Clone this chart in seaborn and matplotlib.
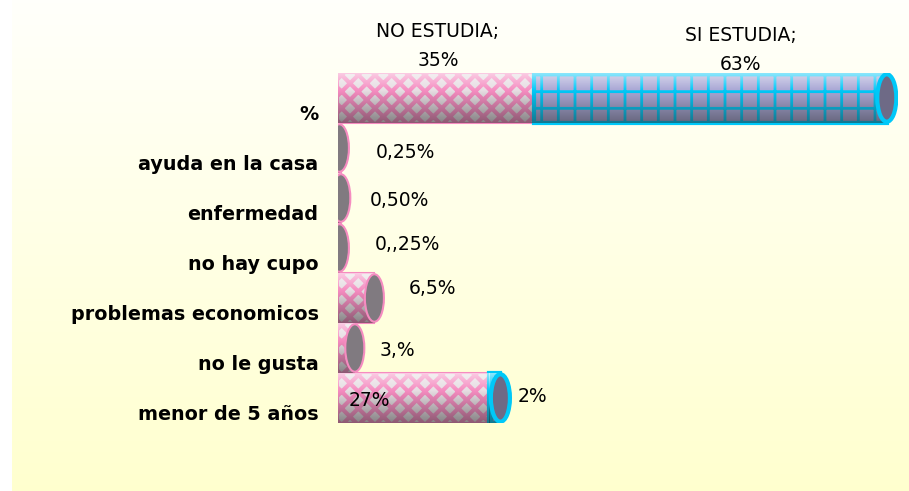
import numpy as np
import pandas as pd
import matplotlib
matplotlib.use('Agg')
import matplotlib.pyplot as plt
import seaborn as sns
from matplotlib.patches import Ellipse
from matplotlib.transforms import ScaledTranslation

# Data
categories = ['%', 'ayuda en la casa', 'enfermedad', 'no hay cupo',
              'problemas economicos', 'no le gusta', 'menor de 5 años']
no_estudia = [35, 0.25, 0.5, 0.25, 6.5, 3, 27]
si_estudia = [63, 0, 0, 0, 0, 0, 2]
no_labels = ['NO ESTUDIA;\n35%', '0,25%', '0,50%', '0,,25%', '6,5%', '3,%', '27%']
si_labels = ['SI ESTUDIA;\n63%', '', '', '', '', '', '2%']

df = pd.DataFrame({'cat': categories, 'no': no_estudia, 'si': si_estudia})

sns.set_style('white')
plt.rcParams['hatch.linewidth'] = 3.0

fig = plt.figure(figsize=(9.09, 4.91), dpi=100)
fig.patch.set_facecolor('white')

# yellow gradient panel behind everything
bg = fig.add_axes([12 / 909, 0, 1 - 12 / 909, 1], zorder=-1)
grad = np.linspace(0, 1, 256)[:, None]
top = np.array([1.0, 1.0, 0.985])
bot = np.array([1.0, 1.0, 0.81])
bg.imshow(top + (bot - top) * grad[..., None] * np.ones((1, 2, 1)), aspect='auto')
bg.axis('off')

ax = fig.add_axes([338 / 909, 1 - 423 / 491, 560 / 909, 350 / 491])
ax.patch.set_alpha(0)

pink = '#f58cc0'
cyan = '#00c8f8'

# NO ESTUDIA segment
sns.barplot(data=df, x='no', y='cat', orient='h', ax=ax, width=1.0,
            color='#e6dde2', edgecolor=pink, linewidth=1.5, hatch='xx',
            saturation=1, zorder=2)
no_patches = list(ax.patches)

# SI ESTUDIA segment stacked after it
y = np.arange(len(categories))
mask = df['si'].values > 0
plt.rcParams['hatch.linewidth'] = 2.0
si_bars = ax.barh(y[mask], df['si'].values[mask], left=df['no'].values[mask],
                  height=1.0, color='#a8a6d4', edgecolor=cyan, linewidth=3,
                  hatch='+', zorder=2)

# cylinder shading on every bar
shade = np.zeros((64, 2, 4))
t = np.linspace(0, 1, 64)
shade[:, :, :3] = np.where(t < 0.35, 1.0, 0.15)[:, None, None]
shade[:, :, 3] = np.where(t < 0.35, 0.55 * (1 - t / 0.35), 0.5 * (t - 0.35) / 0.65)[:, None]
for p in no_patches + list(si_bars.patches):
    x0, yb = p.get_x(), p.get_y()
    im = ax.imshow(shade, extent=(x0, x0 + p.get_width(), yb + p.get_height(), yb),
                   aspect='auto', zorder=3, interpolation='bilinear')
    im.set_clip_path(p)

# end caps of the cylinders
totals = df['no'].values + df['si'].values
for i, tot in enumerate(totals):
    edge = cyan if df['si'].values[i] > 0 else pink
    face = '#6e6a86' if df['si'].values[i] > 0 else '#807a80'
    ax.add_patch(Ellipse((tot, i), 3.4, 0.95, facecolor=face, edgecolor=edge,
                         linewidth=3 if edge == cyan else 1.5, zorder=4))

# data labels
no_off = [(2, 52), (66, -4), (59, -2), (68, 3), (58, 9), (43, -3), (-44, -2)]
si_off = [(30, 48), None, None, None, None, None, (32, 1)]
for i in range(len(categories)):
    nx = df['no'][i] / 2 if i in (0, 6) else df['no'][i]
    ax.annotate(no_labels[i], (nx, i), xytext=no_off[i], textcoords='offset pixels',
                ha='center', va='center', fontsize=13.5, linespacing=1.65,
                family='DejaVu Sans', color='black', zorder=5)
    if si_labels[i]:
        sx = df['no'][i] + df['si'][i] / 2 if i == 0 else totals[i]
        ax.annotate(si_labels[i], (sx, i), xytext=si_off[i], textcoords='offset pixels',
                    ha='center', va='center', fontsize=13.5, linespacing=1.65,
                    family='DejaVu Sans', color='black', zorder=5)

ax.set_xlim(0, 100)
ax.set_ylim(len(categories) - 0.5, -0.5)
ax.set_xlabel('')
ax.set_ylabel('')
ax.set_xticks([])
ax.tick_params(axis='y', length=0, pad=14)
# labels sit a little below the bar centres
for lab in ax.get_yticklabels():
    lab.set_fontweight('bold')
    lab.set_fontsize(13.8)
    lab.set_family('DejaVu Sans')
    lab.set_color('black')
    lab.set_transform(lab.get_transform() + ScaledTranslation(0, -14 / 100, fig.dpi_scale_trans))
sns.despine(ax=ax, left=True, bottom=True)

fig.savefig('out.png', dpi=100)
